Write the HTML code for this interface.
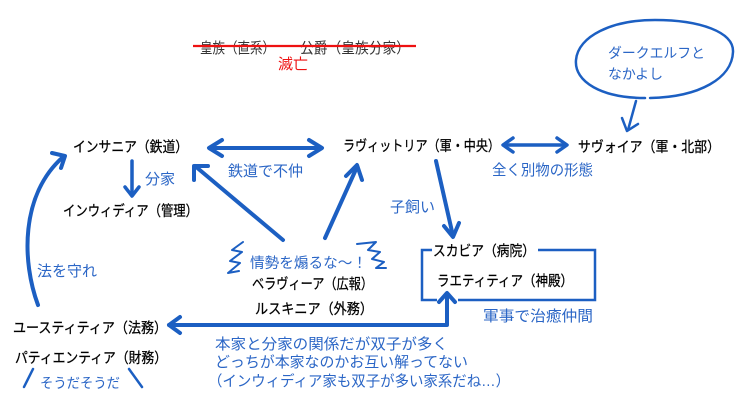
<!DOCTYPE html>
<html>
<head>
<meta charset="utf-8">
<style>
html,body{margin:0;padding:0;background:#fff;}
svg{display:block;}
text{font-family:"Liberation Sans","Noto Sans CJK JP",sans-serif;}
.k{fill:#000;font-size:14.5px;stroke:#000;stroke-width:0.25;}
.b{fill:#2b66c6;font-size:15px;}
.ln{stroke:#1c5fc2;stroke-width:4;fill:none;stroke-linecap:round;stroke-linejoin:round;}
.th{stroke:#1c5fc2;stroke-width:2.5;fill:none;stroke-linecap:round;stroke-linejoin:round;}
</style>
</head>
<body>
<svg width="746" height="405" viewBox="0 0 746 405" xmlns="http://www.w3.org/2000/svg">
<rect width="746" height="405" fill="#fff"/>

<!-- top extinct line -->
<text x="200" y="53" style="font-size:15px;fill:#333" textLength="75" lengthAdjust="spacingAndGlyphs">皇族（直系）</text>
<text x="300" y="53" style="font-size:15px;fill:#333" textLength="110" lengthAdjust="spacingAndGlyphs">公爵（皇族分家）</text>
<line x1="193" y1="46" x2="416" y2="46" stroke="#ee1111" stroke-width="2.2"/>
<text x="278" y="69" style="font-size:15px;fill:#ee1111" textLength="30" lengthAdjust="spacingAndGlyphs">滅亡</text>

<!-- ellipse bubble -->
<path class="th" d="M645,98 C602,98 574,82 576,60 C578,36 612,20 655,20 C700,20 734,32 733,52 C732,78 700,97 650,98"/>
<text x="608" y="58" class="b" style="font-size:14px" textLength="97" lengthAdjust="spacingAndGlyphs">ダークエルフと</text>
<text x="608" y="79" class="b" style="font-size:14px" textLength="55" lengthAdjust="spacingAndGlyphs">なかよし</text>
<path class="th" d="M636,101 L628,130"/>
<path class="th" d="M622,118 L627,131 L638,124"/>

<!-- main row -->
<text x="73" y="152" class="k" textLength="115" lengthAdjust="spacingAndGlyphs">インサニア（鉄道）</text>
<text x="343" y="151" class="k" textLength="157" lengthAdjust="spacingAndGlyphs">ラヴィットリア（軍・中央）</text>
<text x="578" y="152" class="k" textLength="142" lengthAdjust="spacingAndGlyphs">サヴォイア（軍・北部）</text>

<!-- double arrow インサニア - ラヴィットリア -->
<path class="ln" d="M210,148 L321,148"/>
<path class="ln" d="M222,140 L209,148 L222,156"/>
<path class="ln" d="M309,140 L322,148 L309,156"/>
<text x="228" y="176" class="b" textLength="75" lengthAdjust="spacingAndGlyphs">鉄道で不仲</text>

<!-- double arrow ラヴィットリア - サヴォイア -->
<path class="ln" d="M504,145 L566,145" style="stroke-width:3.5"/>
<path class="ln" d="M513,138 L503,145 L513,152" style="stroke-width:3.5"/>
<path class="ln" d="M557,138 L567,145 L557,152" style="stroke-width:3.5"/>
<text x="492" y="175" class="b" textLength="101" lengthAdjust="spacingAndGlyphs">全く別物の形態</text>

<!-- 分家 arrow -->
<path class="ln" d="M132,161 L132,195" style="stroke-width:3.5"/>
<path class="ln" d="M125,187 L132,196 L139,187" style="stroke-width:3.5"/>
<text x="145" y="184" class="b" textLength="30" lengthAdjust="spacingAndGlyphs">分家</text>
<text x="63" y="216" class="k" textLength="135" lengthAdjust="spacingAndGlyphs">インウィディア（管理）</text>

<!-- 子飼い arrow -->
<path class="ln" d="M436,161 L453,236"/>
<path class="ln" d="M444,226 L453,237 L459,223"/>
<text x="390" y="212" class="b" textLength="45" lengthAdjust="spacingAndGlyphs">子飼い</text>

<!-- center arrows -->
<path class="ln" d="M283,240 L195,166"/>
<path class="ln" d="M194,180 L194,166 L208,166"/>
<path class="ln" d="M325,238 L357,167"/>
<path class="ln" d="M346,176 L357,165 L362,180"/>

<!-- squiggles -->
<path class="th" style="stroke-width:2" d="M243,242 L232,250 L242,252 L230,261 L240,263 L228,273 L239,271"/>
<path class="th" style="stroke-width:2" d="M357,244 L376,242 L368,250 L380,252 L372,259 L384,262 L376,268 L386,268"/>
<text x="250" y="268" class="b" style="font-size:14.5px" textLength="117" lengthAdjust="spacingAndGlyphs">情勢を煽るな～！</text>

<text x="252" y="289" class="k" textLength="121" lengthAdjust="spacingAndGlyphs">ベラヴィーア（広報）</text>
<text x="255" y="314" class="k" textLength="118" lengthAdjust="spacingAndGlyphs">ルスキニア（外務）</text>

<!-- box -->
<path d="M432,250 L422,250 L422,300 L437,300" stroke="#1c5fc2" stroke-width="2.5" fill="none"/>
<path d="M538,250 L595,250 L595,300 L458,300" stroke="#1c5fc2" stroke-width="2.5" fill="none"/>
<text x="433" y="256" class="k" textLength="102" lengthAdjust="spacingAndGlyphs">スカビア（病院）</text>
<text x="437" y="286" class="k" textLength="136" lengthAdjust="spacingAndGlyphs">ラエティティア（神殿）</text>
<text x="483" y="321" class="b" textLength="110" lengthAdjust="spacingAndGlyphs">軍事で治癒仲間</text>

<!-- box to ユースティティア arrow -->
<path class="ln" d="M447,294 L447,325 L169,325"/>
<path class="ln" d="M439,302 L447,293 L455,302"/>
<path class="ln" d="M180,317 L169,325 L180,333"/>

<!-- left curved arrow -->
<path class="ln" d="M38,305 C22,262 20,195 63,157"/>
<path class="ln" d="M52,153 L65,156 L61,168"/>
<text x="37" y="276" class="b" textLength="60" lengthAdjust="spacingAndGlyphs">法を守れ</text>

<text x="13" y="333" class="k" textLength="154" lengthAdjust="spacingAndGlyphs">ユースティティア（法務）</text>
<text x="15" y="363" class="k" textLength="152" lengthAdjust="spacingAndGlyphs">パティエンティア（財務）</text>
<text x="40" y="388" class="b" style="font-size:14px" textLength="80" lengthAdjust="spacingAndGlyphs">そうだそうだ</text>
<path class="th" d="M24,387 L33,369"/>
<path class="th" d="M129,369 L142,387"/>

<!-- bottom comment -->
<text x="215" y="349" class="b" textLength="233" lengthAdjust="spacingAndGlyphs">本家と分家の関係だが双子が多く</text>
<text x="215" y="367" class="b" textLength="253" lengthAdjust="spacingAndGlyphs">どっちが本家なのかお互い解ってない</text>
<text x="208" y="386" class="b" textLength="302" lengthAdjust="spacingAndGlyphs">（インウィディア家も双子が多い家系だね…）</text>
</svg>
</body>
</html>
